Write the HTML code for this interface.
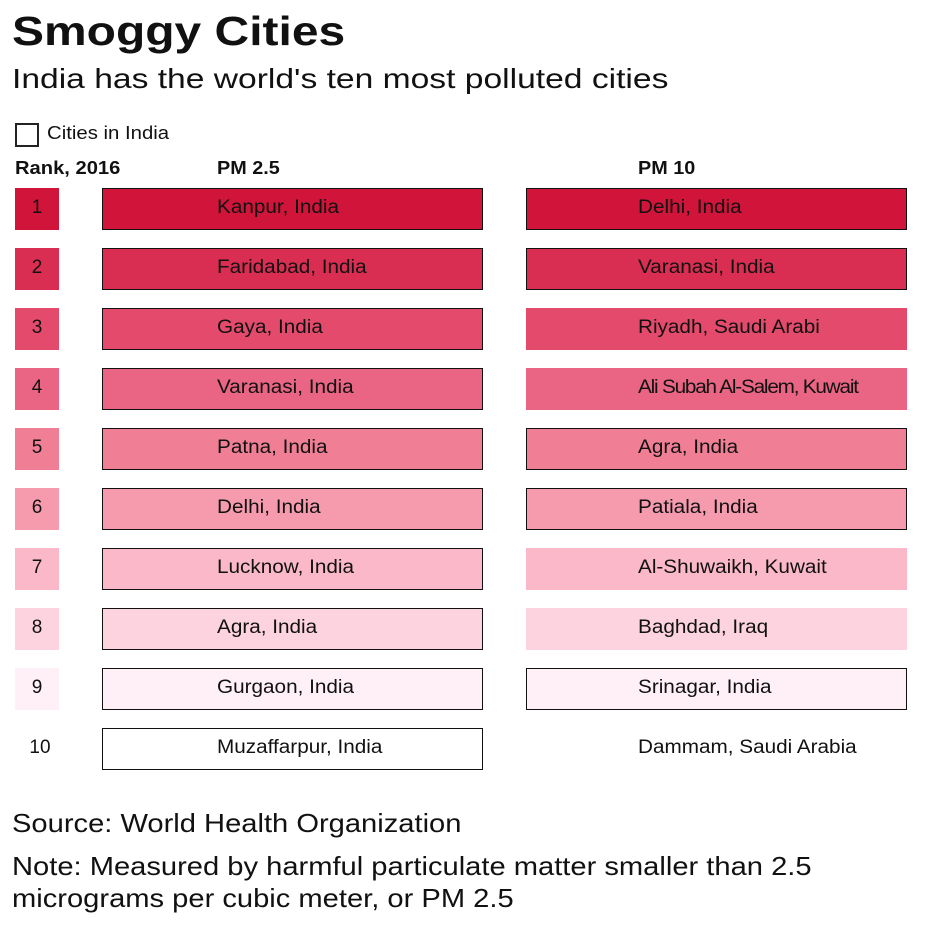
<!DOCTYPE html><html><head><style>
body{margin:0;width:938px;height:938px;background:#fff;font-family:"Liberation Sans",sans-serif;color:#111;position:relative;overflow:hidden}
.a{position:absolute;transform-origin:0 0;white-space:nowrap}
.b{position:absolute;box-sizing:border-box;height:42px}
.t{position:absolute;font-size:19px;line-height:20px;white-space:nowrap;transform-origin:0 0;transform:scaleX(1.09)}
.n{position:absolute;font-size:19px;line-height:20px;width:44px;text-align:center}
</style></head><body>
<div class="a" style="left:12px;top:8px;font-size:41px;font-weight:bold;transform:scaleX(1.17)">Smoggy Cities</div>
<div class="a" style="left:12px;top:63px;font-size:28px;transform:scaleX(1.2)">India has the world's ten most polluted cities</div>
<div class="a" style="left:15px;top:123px;width:24px;height:24px;box-sizing:border-box;border:2px solid #222"></div>
<div class="a" style="left:47px;top:123px;font-size:18px;transform:scaleX(1.13)">Cities in India</div>
<div class="a" style="left:15px;top:158px;font-size:18px;font-weight:bold;transform:scaleX(1.12)">Rank, 2016</div>
<div class="a" style="left:217px;top:158px;font-size:18px;font-weight:bold;transform:scaleX(1.1)">PM 2.5</div>
<div class="a" style="left:638px;top:158px;font-size:18px;font-weight:bold;transform:scaleX(1.1)">PM 10</div>
<div id="rows"></div>
<div class="a" style="left:12px;top:808px;font-size:26px;transform:scaleX(1.12)">Source: World Health Organization</div>
<div class="a" style="left:12px;top:850px;font-size:26px;line-height:32px;transform:scaleX(1.12)">Note: Measured by harmful particulate matter smaller than 2.5<br>micrograms per cubic meter, or PM 2.5</div>
<script>
var c=["#d0143a","#d92d52","#e34a6c","#ea6583","#f07f96","#f69aae","#fbb8c9","#fdd3e0","#fff0f8","#fff"];
var p=["Kanpur, India","Faridabad, India","Gaya, India","Varanasi, India","Patna, India","Delhi, India","Lucknow, India","Agra, India","Gurgaon, India","Muzaffarpur, India"];
var q=["Delhi, India","Varanasi, India","Riyadh, Saudi Arabi","Ali Subah Al-Salem, Kuwait","Agra, India","Patiala, India","Al-Shuwaikh, Kuwait","Baghdad, Iraq","Srinagar, India","Dammam, Saudi Arabia"];
var qi=[1,1,0,0,1,1,0,0,1,0];var h="";
for(var i=0;i<10;i++){var y=188+i*60;
h+='<div class="b" style="left:15px;top:'+y+'px;width:44px;background:'+c[i]+'"></div>';
h+='<div class="n" style="left:'+(i==9?18:15)+'px;top:'+(y+10)+'px">'+(i+1)+'</div>';
h+='<div class="b" style="left:102px;top:'+y+'px;width:381px;background:'+c[i]+';border:1.5px solid #111"></div>';
h+='<div class="t" style="left:217px;top:'+(y+10)+'px">'+p[i]+'</div>';
h+='<div class="b" style="left:526px;top:'+y+'px;width:381px;background:'+c[i]+';'+(qi[i]?'border:1.5px solid #111':'')+'"></div>';
h+='<div class="t" style="left:638px;top:'+(y+10)+'px;'+(i==3?'letter-spacing:-1.1px':'')+'">'+q[i]+'</div>';}
document.getElementById("rows").innerHTML=h;
</script></body></html>
